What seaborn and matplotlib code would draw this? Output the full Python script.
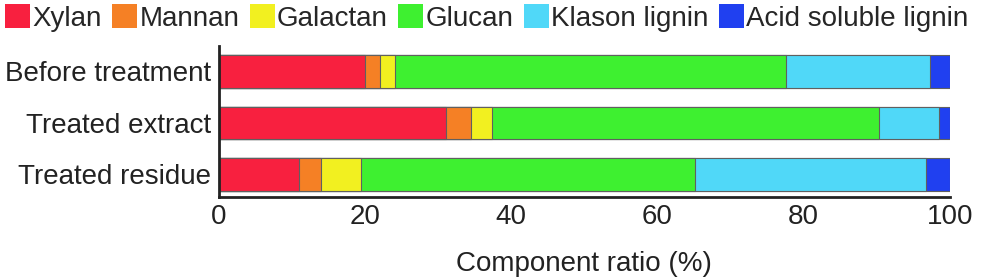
import numpy as np
import pandas as pd
import matplotlib
matplotlib.use("Agg")
import matplotlib.pyplot as plt
from matplotlib.patches import Patch
import seaborn as sns

samples = ["Before treatment", "Treated extract", "Treated residue"]
components = ["Xylan", "Mannan", "Galactan", "Glucan", "Klason lignin", "Acid soluble lignin"]
xylan = [20.0, 31.1, 11.0]
mannan = [2.0, 3.4, 3.0]
galactan = [2.1, 2.8, 5.5]
glucan = [53.5, 53.0, 45.7]
klason = [19.7, 8.2, 31.6]
asl = [2.7, 1.5, 3.2]
colors = ["#F8203F", "#F58025", "#F2F020", "#3EF030", "#50D8F8", "#2040F0"]
xticks = [0, 20, 40, 60, 80, 100]

sns.set_theme(style="white")
plt.rcParams["font.family"] = ["Liberation Sans", "DejaVu Sans"]

series = [xylan, mannan, galactan, glucan, klason, asl]
cum = np.cumsum(np.array(series), axis=0)

FS = 20
fig = plt.figure(figsize=(9.81, 2.77), dpi=100)
ax = fig.add_axes([0.2232, 0.289, 0.7450, 0.546])

for i in range(len(components) - 1, -1, -1):
    df = pd.DataFrame({"sample": samples, "value": cum[i]})
    sns.barplot(data=df, x="value", y="sample", orient="h", color=colors[i],
                width=0.63, edgecolor="#606060", linewidth=0.8,
                errorbar=None, saturation=1, ax=ax)

ax.set_xlim(0, 100)
ax.set_ylim(2.44, -0.5)
ax.set_xticks(xticks)
ax.set_xticklabels([str(t) for t in xticks], fontsize=FS, color="#222222")
ax.set_yticks(range(len(samples)))
ax.set_yticklabels(samples, fontsize=FS, color="#222222")
ax.tick_params(axis="x", direction="in", length=5, width=1.5, color="#222222", pad=5)
ax.tick_params(axis="y", length=0, pad=6)
ax.set_xlabel("Component ratio (%)", fontsize=FS, color="#222222", labelpad=15)
ax.set_ylabel("")
for s in ["top", "right"]:
    ax.spines[s].set_visible(False)
for s in ["left", "bottom"]:
    ax.spines[s].set_color("#222222")
    ax.spines[s].set_linewidth(2)

handles = [Patch(facecolor=c, edgecolor="none") for c in colors]
fig.legend(handles, components, loc="upper left", bbox_to_anchor=(5 / 981, 0.987),
           ncol=6, frameon=False, fontsize=FS, handlelength=0.9, handleheight=1.0,
           handletextpad=0.08, columnspacing=0.38, borderaxespad=0, borderpad=0)

fig.savefig("out.png", dpi=100)
